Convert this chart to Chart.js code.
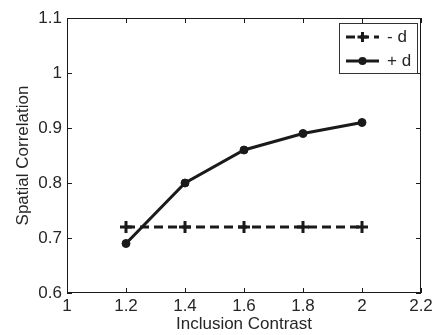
<!DOCTYPE html>
<html>
<head>
<meta charset="utf-8">
<script src="https://cdn.jsdelivr.net/npm/chart.js@4"></script>
<style>
  html, body { margin: 0; padding: 0; background: #fff; }
  #wrap { width: 436px; height: 335px; }
</style>
</head>
<body>
<div id="wrap"><canvas id="corrChart" width="436" height="335"></canvas></div>
<script>
// values
const contrast = [1.2, 1.4, 1.6, 1.8, 2.0];
const minusD = [0.72, 0.72, 0.72, 0.72, 0.72];
const plusD = [0.69, 0.80, 0.86, 0.89, 0.91];
const xTicks = [1, 1.2, 1.4, 1.6, 1.8, 2, 2.2];
const yTicks = [0.6, 0.7, 0.8, 0.9, 1, 1.1];

const FONT = "'Liberation Sans', Arial, sans-serif";
const INK = '#1a1a1a';
const TXT = '#262626';

// box around the plot + inward tick marks on all four sides, MATLAB style
const boxPlugin = {
  id: 'boxTicks',
  afterDraw(chart) {
    const { ctx, chartArea: a, scales } = chart;
    ctx.save();
    ctx.strokeStyle = INK;
    ctx.lineWidth = 1;
    ctx.strokeRect(a.left + 0.5, a.top + 0.5, a.right - a.left - 1, a.bottom - a.top - 1);
    const len = 5;
    ctx.beginPath();
    xTicks.forEach(v => {
      const x = Math.round(scales.x.getPixelForValue(v)) + 0.5;
      ctx.moveTo(x, a.bottom); ctx.lineTo(x, a.bottom - len);
      ctx.moveTo(x, a.top); ctx.lineTo(x, a.top + len);
    });
    yTicks.forEach(v => {
      const y = Math.round(scales.y.getPixelForValue(v)) + 0.5;
      ctx.moveTo(a.left, y); ctx.lineTo(a.left + len, y);
      ctx.moveTo(a.right, y); ctx.lineTo(a.right - len, y);
    });
    ctx.stroke();

    // legend box in the top right corner
    const bx = 339, by = 23, bw = 78, bh = 50;
    ctx.fillStyle = '#fff';
    ctx.fillRect(bx, by, bw, bh);
    ctx.strokeStyle = '#333';
    ctx.strokeRect(bx + 0.5, by + 0.5, bw, bh);
    const rows = [{ ds: chart.data.datasets[0], y: by + 14 }, { ds: chart.data.datasets[1], y: by + 38 }];
    rows.forEach(r => {
      const x0 = bx + 7, x1 = bx + 40, xm = (x0 + x1) / 2;
      ctx.strokeStyle = INK;
      ctx.lineWidth = r.ds.borderWidth;
      ctx.setLineDash(r.ds.borderDash || []);
      ctx.beginPath();
      ctx.moveTo(x0, r.y); ctx.lineTo(x1, r.y);
      ctx.stroke();
      ctx.setLineDash([]);
      if (r.ds.pointStyle === 'cross') {
        ctx.lineWidth = 3;
        ctx.beginPath();
        ctx.moveTo(xm - 5, r.y); ctx.lineTo(xm + 5, r.y);
        ctx.moveTo(xm, r.y - 5); ctx.lineTo(xm, r.y + 5);
        ctx.stroke();
      } else {
        ctx.fillStyle = INK;
        ctx.beginPath();
        ctx.arc(xm, r.y, 4, 0, Math.PI * 2);
        ctx.fill();
      }
      ctx.fillStyle = TXT;
      ctx.font = '17px ' + FONT;
      ctx.textBaseline = 'middle';
      ctx.fillText(r.ds.label, bx + 48, r.y);
    });
    ctx.restore();
  }
};

document.addEventListener('DOMContentLoaded', function () {
  const ctx = document.getElementById('corrChart').getContext('2d');
  new Chart(ctx, {
    type: 'line',
    data: {
      datasets: [
        {
          label: '- d',
          data: contrast.map((c, i) => ({ x: c, y: minusD[i] })),
          borderColor: INK,
          backgroundColor: INK,
          borderWidth: 3,
          borderDash: [9, 5],
          pointStyle: 'cross',
          pointRadius: 6,
          pointBorderWidth: 3,
          fill: false,
          tension: 0
        },
        {
          label: '+ d',
          data: contrast.map((c, i) => ({ x: c, y: plusD[i] })),
          borderColor: INK,
          backgroundColor: INK,
          borderWidth: 3,
          pointStyle: 'circle',
          pointRadius: 4,
          pointBorderWidth: 1,
          fill: false,
          tension: 0
        }
      ]
    },
    options: {
      responsive: false,
      animation: false,
      layout: { padding: { left: 0, right: 15, top: 18, bottom: 0 } },
      plugins: {
        legend: { display: false },
        tooltip: { enabled: false }
      },
      scales: {
        x: {
          type: 'linear',
          min: 1,
          max: 2.2,
          afterBuildTicks: s => { s.ticks = xTicks.map(v => ({ value: v })); },
          afterFit: s => { s.height = 42; },
          grid: { display: false, drawTicks: false },
          border: { display: false },
          ticks: {
            color: TXT,
            padding: 3,
            maxRotation: 0,
            autoSkip: false,
            font: { family: FONT, size: 17 },
            callback: v => String(Math.round(v * 10) / 10)
          },
          title: {
            display: true,
            text: 'Inclusion Contrast',
            color: TXT,
            font: { family: FONT, size: 17 },
            padding: { top: 0, bottom: 0 }
          }
        },
        y: {
          min: 0.6,
          max: 1.1,
          afterBuildTicks: s => { s.ticks = yTicks.map(v => ({ value: v })); },
          afterFit: s => { s.width = 67; },
          grid: { display: false, drawTicks: false },
          border: { display: false },
          ticks: {
            color: TXT,
            padding: 5,
            autoSkip: false,
            font: { family: FONT, size: 17 },
            callback: v => String(Math.round(v * 10) / 10)
          },
          title: {
            display: true,
            text: 'Spatial Correlation',
            color: TXT,
            font: { family: FONT, size: 17 },
            padding: { top: 13, bottom: 0 }
          }
        }
      }
    },
    plugins: [boxPlugin]
  });
});
</script>
</body>
</html>
